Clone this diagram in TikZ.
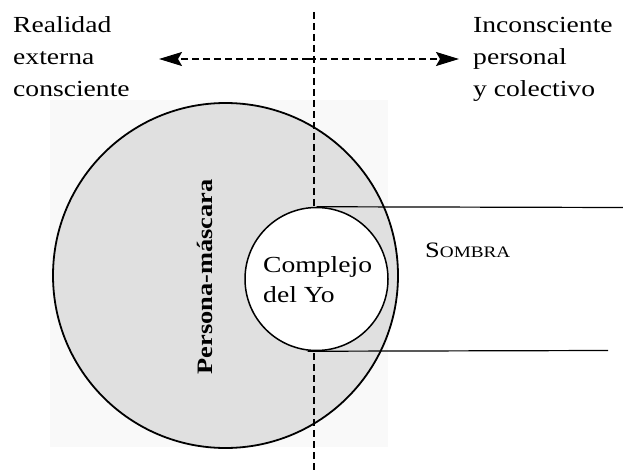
\documentclass[tikz,border=0pt]{standalone}
\usepackage{fontspec}
\setmainfont[FakeStretch=1.2]{Liberation Serif}
\usetikzlibrary{arrows.meta}
\begin{document}
\begin{tikzpicture}[x=1pt,y=-1pt,
  lbl/.style={anchor=base west, inner sep=0pt, font=\fontsize{23}{28}\selectfont},
  dline/.style={line width=1.6pt, dash pattern=on 7pt off 4pt},
  thinline/.style={line width=1.2pt},
  tip/.style={-{Stealth[length=23pt,width=14pt,inset=4pt]}}]
\useasboundingbox (0,0) rectangle (623,470);
% faint scanned background
\fill[black!2.5] (50,100) rectangle (388,447);
% big circle
\node[circle, draw, line width=1.8pt, fill=black!12, minimum size=345pt, inner sep=0pt] (psy) at (225.5,275.5) {};
% vertical dashed divider
\coordinate (vtop) at (314,12);
\coordinate (vbot) at (314,470);
\draw[dline] (vtop) -- (vbot);
% ego circle
\node[circle, draw, line width=1.5pt, fill=white, minimum size=143pt, inner sep=0pt] (ego) at (316.5,279) {};
% horizontal lines to the shadow
\coordinate (t2) at (623,207.5);
\coordinate (b2) at (608,350.5);
\draw[thinline] (ego.north) -- (t2);
\draw[thinline] ([xshift=-9pt]ego.south) -- (b2);
% double arrow
\coordinate (al) at (159,59);
\coordinate (ar) at (459,59);
\coordinate (amid) at (309,59);
\draw[dline, tip] (amid) -- (al);
\draw[dline, tip] (amid) -- (ar);
% left labels
\node[lbl] (l1) at (13,33) {Realidad};
\node[lbl] (l2) at (13,65) {externa};
\node[lbl] (l3) at (13,97) {consciente};
% right labels
\node[lbl] (r1) at (473,33) {Inconsciente};
\node[lbl] (r2) at (473,65) {personal};
\node[lbl] (r3) at (473,97) {y colectivo};
% ego text
\node[lbl] (c1) at (263,272) {Complejo};
\node[lbl] (c2) at (263,302) {del Yo};
% persona
\node[anchor=base, inner sep=0pt, rotate=90, font=\fontsize{22}{22}\selectfont\bfseries] (pers) at (212,277) {Persona-máscara};
% shadow
\node[anchor=base west, inner sep=0pt] (sombra) at (425,258) {{\fontsize{22}{22}\selectfont S}{\fontsize{16}{16}\selectfont OMBRA}};
\end{tikzpicture}
\end{document}
